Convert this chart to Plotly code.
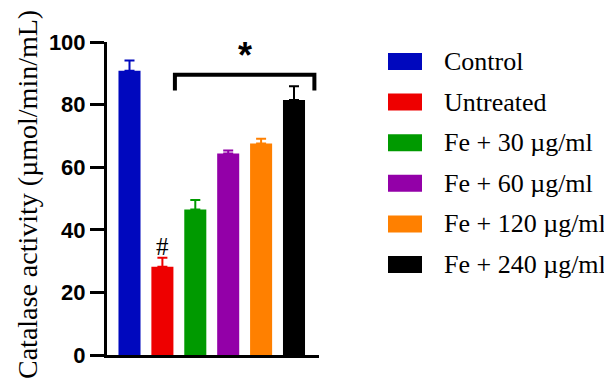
import plotly.graph_objects as go

# ---- data ----
groups = ["Control", "Untreated", "Fe + 30 µg/ml", "Fe + 60 µg/ml", "Fe + 120 µg/ml", "Fe + 240 µg/ml"]
means = [90.8, 28.2, 46.5, 64.4, 67.6, 81.5]
errors = [3.3, 2.9, 3.0, 0.9, 1.5, 4.4]
colors = ["#0008BE", "#EE0000", "#009A00", "#9300A8", "#FF8000", "#000000"]
y_ticks = [0, 20, 40, 60, 80, 100]
y_title = "Catalase activity (µmol/min/mL)"

# significance annotations (data units)
hash_label = "#"
hash_group = 1
hash_y = 34.8
star_label = "*"
bracket_x = [1.38, 5.62]
bracket_y = [84.5, 89.5]
star_y = 95.6

fig = go.Figure()
for i, (g, m, e, c) in enumerate(zip(groups, means, errors, colors)):
    fig.add_trace(go.Bar(
        x=[i], y=[m], name=g, width=0.67,
        marker=dict(color=c, line=dict(width=0)),
        error_y=dict(type="data", symmetric=False, array=[e], arrayminus=[0],
                     color=c, thickness=2, width=5),
        showlegend=False,
    ))

# bracket
fig.add_shape(type="path",
              path=f"M {bracket_x[0]},{bracket_y[0]} L {bracket_x[0]},{bracket_y[1]} "
                   f"L {bracket_x[1]},{bracket_y[1]} L {bracket_x[1]},{bracket_y[0]}",
              xref="x", yref="y", line=dict(color="black", width=4))

annotations = [
    dict(x=(bracket_x[0] + bracket_x[1]) / 2, y=star_y, xref="x", yref="y",
         text=star_label, showarrow=False,
         font=dict(family="Liberation Sans", size=36, color="black", weight="bold"),
         yanchor="middle", xanchor="center"),
    dict(x=hash_group, y=hash_y, xref="x", yref="y", text=hash_label, showarrow=False,
         font=dict(family="Liberation Serif", size=25, color="black"),
         yanchor="middle", xanchor="center"),
]

# page offset (browser body margin) and plot-area geometry in page pixels
off = 8
plot_l, plot_w, plot_t, plot_b = 107, 212, 42, 355
plot_h = plot_b - plot_t

def px_x(px):
    return (px - plot_l) / plot_w

def px_y(py):
    return (plot_b - py) / plot_h

annotations.append(dict(x=px_x(27), y=px_y(195), xref="paper", yref="paper", text=y_title,
                        showarrow=False, textangle=-90,
                        font=dict(family="Liberation Serif", size=28, color="black"),
                        xanchor="center", yanchor="middle"))

# custom legend (paper coords)
row0, row_step = 61.5, 40.6
for i, (g, c) in enumerate(zip(groups, colors)):
    cy = row0 + i * row_step
    fig.add_shape(type="rect", xref="paper", yref="paper",
                  x0=px_x(388), x1=px_x(422), y0=px_y(cy + 8.5), y1=px_y(cy - 8.5),
                  fillcolor=c, line=dict(width=0))
    annotations.append(dict(x=px_x(442), y=px_y(cy), xref="paper", yref="paper", text=g,
                            showarrow=False, xanchor="left", yanchor="middle",
                            font=dict(family="Liberation Serif", size=26, color="black")))

fig.update_layout(
    width=612 - off, height=384 - off,
    margin=dict(l=plot_l - off, r=612 - plot_l - plot_w, t=plot_t - off, b=384 - plot_b),
    paper_bgcolor="white", plot_bgcolor="white",
    barmode="overlay",
    showlegend=False,
    annotations=annotations,
    xaxis=dict(range=[-0.684, 5.76], showline=True, linecolor="black", linewidth=3,
               showticklabels=False, ticks="", showgrid=False, zeroline=False, fixedrange=True),
    yaxis=dict(range=[0, 100], tickvals=y_ticks, showline=True, linecolor="black", linewidth=3,
               ticks="outside", ticklen=14, tickwidth=3, tickcolor="black",
               tickfont=dict(family="Liberation Sans", size=22, color="black", weight="bold"),
               showgrid=False, zeroline=False, fixedrange=True),
)

fig.write_html("out.html")
